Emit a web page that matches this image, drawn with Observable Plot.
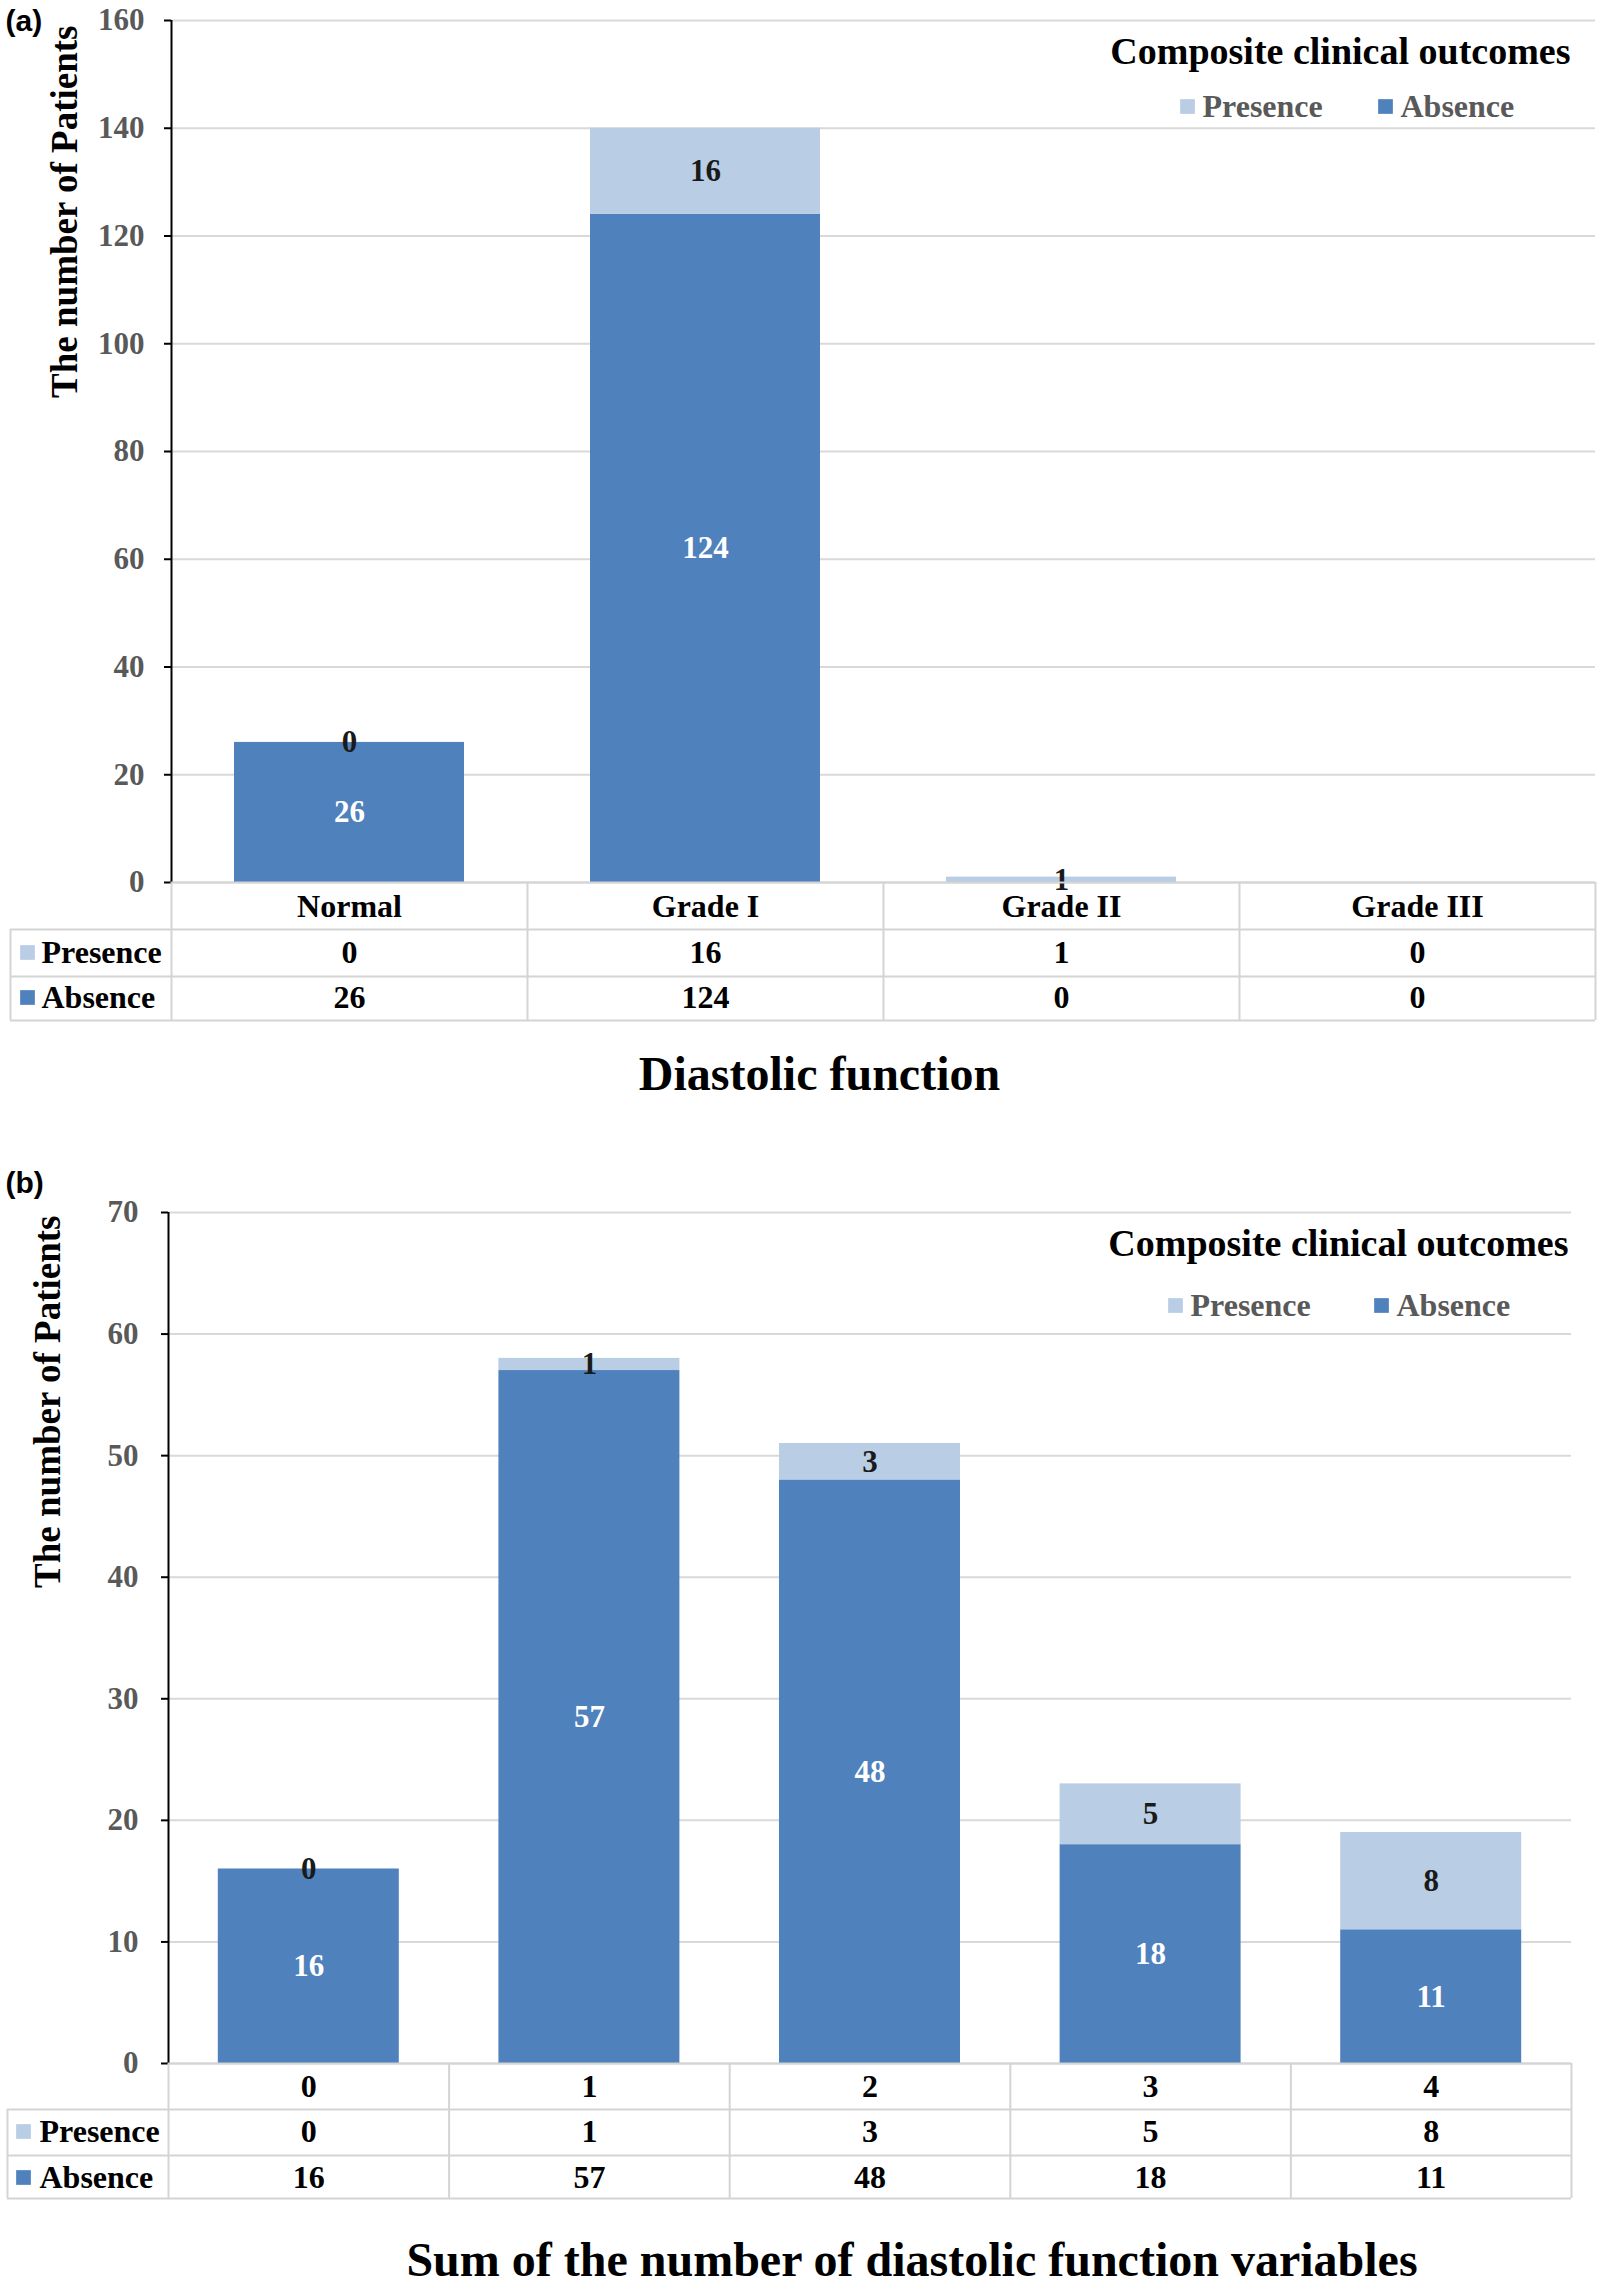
<!DOCTYPE html>
<html>
<head>
<meta charset="utf-8">
<script src="https://cdn.jsdelivr.net/npm/d3@7"></script>
<script src="https://cdn.jsdelivr.net/npm/@observablehq/plot@0.6"></script>
<style>
  html, body { margin: 0; padding: 0; background: #fff; }
  #root svg { display: block; }
</style>
</head>
<body>
<div id="root"></div>
<script>
// ---------- data ----------
const seriesNames = ["Presence", "Absence"];
const seriesColors = ["#b9cde5", "#4f81bd"];

const catsA = ["Normal", "Grade I", "Grade II", "Grade III"];
const presenceA = [0, 16, 1, 0];
const absenceA = [26, 124, 0, 0];
const ticksA = [0, 20, 40, 60, 80, 100, 120, 140, 160];

const catsB = ["0", "1", "2", "3", "4"];
const presenceB = [0, 1, 3, 5, 8];
const absenceB = [16, 57, 48, 18, 11];
const ticksB = [0, 10, 20, 30, 40, 50, 60, 70];

const yTitle = "The number of Patients";
const legendTitle = "Composite clinical outcomes";

// ---------- layout ----------
const SERIF = "'Liberation Serif', 'Times New Roman', serif";
const SANS = "'Liberation Sans', Arial, sans-serif";
const GRID = "#d9d9d9";
const BORDER = "#d4d4d4";
const MID = "middle";

function panel(cfg) {
  const {cats, presence, absence, ticks, tag, title, L} = cfg;
  const data = [
    ...cats.map((c, i) => ({cat: c, series: "Absence", value: absence[i]})),
    ...cats.map((c, i) => ({cat: c, series: "Presence", value: presence[i]}))
  ];
  const totals = new Map(cats.map((c, i) => [c, presence[i] + absence[i]]));
  const step = (L.width - L.marginLeft - L.marginRight) / cats.length;
  const pi = L.padInner;
  const tableH = L.rows[0] + L.rows[1] + L.rows[2];
  const labelW = L.marginLeft - L.tableLeft;
  const rowLines = [0, L.rows[0], L.rows[0] + L.rows[1], tableH];
  const rowDy = {Presence: L.textDy[1], Absence: L.textDy[2]};
  const last = cats[cats.length - 1];

  const marks = [
    // gridlines
    Plot.ruleY(ticks, {y: d => d, stroke: GRID, strokeWidth: 2}),
    // stacked bars
    Plot.barY(data, {x: "cat", y: "value", fill: "series"}),
    // y axis line
    Plot.ruleX([cats[0]], {x: d => d, dx: -step / 2, y1: 0, y2: ticks[ticks.length - 1], stroke: "black", strokeWidth: 2}),
    Plot.axisY({ticks, tickSize: 7, tickPadding: L.tickPadding, fontSize: 31, fill: "#595959", stroke: "black", strokeWidth: 2, label: null}),
    // bar value labels
    Plot.text(data, Plot.stackY({
      x: "cat", y: "value", z: "series",
      text: d => (d.series === "Absence" && d.value > 0 ? String(d.value) : null),
      fill: "white", fontSize: 31, lineAnchor: MID
    })),
    Plot.text(data, Plot.stackY({
      x: "cat", y: "value", z: "series",
      text: d => (d.series === "Presence" && totals.get(d.cat) > 0 ? String(d.value) : null),
      fill: "#1a1a1a", fontSize: 31, lineAnchor: MID
    })),
    // y axis title
    Plot.text([yTitle], {text: d => d, frameAnchor: "top-left", dx: L.yTitleDx, dy: L.yTitleDy, rotate: -90, textAnchor: "end", lineAnchor: MID, fontSize: 37, fill: "black"}),
    // panel tag
    Plot.text([tag], {text: d => d, frameAnchor: "top-left", dx: L.tagDx, dy: L.tagDy, textAnchor: "start", lineAnchor: MID, fontSize: 30, fontFamily: SANS, fill: "black"}),
    // legend
    Plot.text([legendTitle], {text: d => d, frameAnchor: "top-right", dx: L.legTitleDx, dy: L.legTitleDy, textAnchor: "end", lineAnchor: MID, fontSize: 38, fill: "black"}),
    ...seriesNames.flatMap((s, i) => [
      Plot.dot([s], {fill: d => d, symbol: "square", r: 8.3, frameAnchor: "top-right", dx: L.legSwDx[i], dy: L.legDy}),
      Plot.text([s], {text: d => d, frameAnchor: "top-right", dx: L.legTxDx[i], dy: L.legDy, textAnchor: "start", lineAnchor: MID, fontSize: 32, fill: "#595959"})
    ]),
    // data table: horizontal lines
    ...rowLines.map((off, k) => Plot.ruleY([0], {y: d => d, dy: off, insetLeft: k === 0 ? 0 : -labelW, stroke: BORDER, strokeWidth: 2})),
    // data table: vertical lines
    Plot.ruleX(cats, {x: d => d, dx: -step / 2, y1: 0, y2: 0, insetBottom: -tableH, stroke: BORDER, strokeWidth: 2}),
    Plot.ruleX([last], {x: d => d, dx: step / 2, y1: 0, y2: 0, insetBottom: -tableH, stroke: BORDER, strokeWidth: 2}),
    Plot.ruleX([cats[0]], {x: d => d, dx: -step / 2 - labelW, y1: 0, y2: 0, insetTop: L.rows[0], insetBottom: -tableH, stroke: BORDER, strokeWidth: 2}),
    // data table: header
    Plot.text(cats, {x: d => d, text: d => d, frameAnchor: "bottom", dy: L.textDy[0], lineAnchor: MID, fontSize: 32, fill: "black"}),
    // data table: values
    ...seriesNames.map(s => Plot.text(data.filter(d => d.series === s), {x: "cat", text: d => String(d.value), frameAnchor: "bottom", dy: rowDy[s], lineAnchor: MID, fontSize: 32, fill: "black"})),
    // data table: row labels
    ...seriesNames.flatMap(s => [
      Plot.dot([s], {fill: d => d, symbol: "square", r: 8.3, frameAnchor: "bottom-left", dx: L.rowSwDx, dy: rowDy[s]}),
      Plot.text([s], {text: d => d, frameAnchor: "bottom-left", dx: L.rowTxDx, dy: rowDy[s], textAnchor: "start", lineAnchor: MID, fontSize: 32, fill: "black"})
    ]),
    // x title
    Plot.text([title], {text: d => d, frameAnchor: "bottom", dx: L.titleDx, dy: L.titleDy, lineAnchor: MID, fontSize: 48, fill: "black"})
  ];

  return Plot.plot({
    width: L.width,
    height: L.height,
    marginTop: L.marginTop,
    marginBottom: L.marginBottom,
    marginLeft: L.marginLeft,
    marginRight: L.marginRight,
    style: {fontFamily: SERIF, fontWeight: "bold", background: "white", overflow: "visible"},
    x: {domain: cats, paddingInner: pi, paddingOuter: pi / 2, round: false, axis: null},
    y: {domain: [0, ticks[ticks.length - 1]], label: null},
    color: {domain: seriesNames, range: seriesColors},
    marks
  });
}

const layoutA = {
  width: 1600, height: 1120, marginTop: 20, marginBottom: 238, marginLeft: 171, marginRight: 5,
  padInner: 0.354, tickPadding: 20, tableLeft: 10,
  rows: [47, 47, 44], textDy: [24, 70, 115],
  yTitleDx: -106, yTitleDy: 5, tagDx: -166, tagDy: 1,
  legTitleDx: -25, legTitleDy: 31, legDy: 86,
  legSwDx: [-408, -210], legTxDx: [-393, -195],
  rowSwDx: -144, rowTxDx: -130,
  titleDx: -64, titleDy: 192
};
const layoutB = {
  width: 1600, height: 1162, marginTop: 92, marginBottom: 219, marginLeft: 168, marginRight: 29,
  padInner: 0.355, tickPadding: 23, tableLeft: 7,
  rows: [46, 46, 43], textDy: [23, 68, 114],
  yTitleDx: -120, yTitleDy: 3, tagDx: -163, tagDy: -29,
  legTitleDx: -3, legTitleDy: 31, legDy: 93,
  legSwDx: [-396, -190], legTxDx: [-381, -175],
  rowSwDx: -145, rowTxDx: -129,
  titleDx: 42, titleDy: 197
};

const root = document.getElementById("root");
root.appendChild(panel({cats: catsA, presence: presenceA, absence: absenceA, ticks: ticksA, tag: "(a)", title: "Diastolic function", L: layoutA}));
root.appendChild(panel({cats: catsB, presence: presenceB, absence: absenceB, ticks: ticksB, tag: "(b)", title: "Sum of the number of diastolic function variables", L: layoutB}));
</script>
</body>
</html>
